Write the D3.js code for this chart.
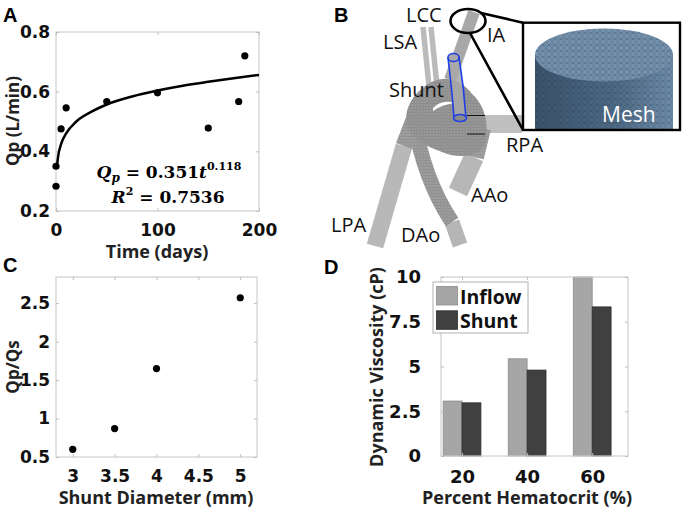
<!DOCTYPE html>
<html>
<head>
<meta charset="utf-8">
<script src="https://cdn.jsdelivr.net/npm/d3@7"></script>
<style>
body { margin: 0; background: #fff; }
svg { display: block; }
</style>
</head>
<body>
<svg id="svg1" width="685" height="512"></svg>
<script>
// ---- panel A : pulmonary flow vs time
var timeDays = [0, 0, 5, 10, 50, 100, 150, 180, 186];
var qpFlow = [0.283, 0.35, 0.475, 0.546, 0.567, 0.596, 0.478, 0.567, 0.72];
// fit curve
var fitDays = [1, 2, 5, 10, 20, 35, 50, 75, 100, 125, 150, 175, 200];
var fitFlow = [0.351, 0.381, 0.424, 0.46, 0.50, 0.533, 0.557, 0.584, 0.604, 0.62, 0.633, 0.645, 0.656];
var aTicksX = [0, 100, 200];
var aTicksY = [0.2, 0.4, 0.6, 0.8];

// ---- panel C : Qp/Qs vs shunt diameter
var shuntDiam = [3, 3.5, 4, 5];
var qpQs = [0.6, 0.87, 1.65, 2.57];
var cTicksX = [3, 3.5, 4, 4.5, 5];
var cTicksY = [0.5, 1, 1.5, 2, 2.5];

// ---- panel D : viscosity vs hematocrit
var hematocrit = ['20', '40', '60'];
var seriesNames = ['Inflow', 'Shunt'];
var inflowVisc = [3.07, 5.43, 10];
var shuntVisc = [2.97, 4.8, 8.33];
var dTicksY = [0, 2.5, 5, 7.5, 10];

var svg = d3.select('#svg1');
var sansBold = '"Open Sans", "DejaVu Sans", sans-serif';
var tickFont = '"DejaVu Sans", sans-serif';
var letterFont = '"Liberation Sans", Arial, sans-serif';

function panelLetter(txt, x, y) {
    svg.append('text').attr('x', x).attr('y', y).text(txt)
        .attr('font-family', letterFont).attr('font-weight', 700).attr('font-size', 20);
}

// matlab style box with inward ticks on all four sides
function drawAxes(g, x, y, w, h, xTicks, yTicks, xPad, yPad, xFmt, yFmt, fs) {
    g.append('rect').attr('width', w).attr('height', h)
        .attr('fill', 'none').attr('stroke', '#cfcfcf').attr('stroke-width', 1.2);
    g.append('g').attr('transform', 'translate(0,' + h + ')')
        .call(d3.axisBottom(x).tickValues(xTicks).tickSizeInner(-3).tickSizeOuter(0).tickPadding(xPad).tickFormat(xFmt));
    g.append('g')
        .call(d3.axisTop(x).tickValues(xTicks).tickSizeInner(-3).tickSizeOuter(0).tickFormat(''));
    g.append('g')
        .call(d3.axisLeft(y).tickValues(yTicks).tickSizeInner(-3).tickSizeOuter(0).tickPadding(yPad).tickFormat(yFmt));
    g.append('g').attr('transform', 'translate(' + w + ',0)')
        .call(d3.axisRight(y).tickValues(yTicks).tickSizeInner(-3).tickSizeOuter(0).tickFormat(''));
    g.selectAll('.domain').remove();
    g.selectAll('.tick line').attr('stroke', '#bdbdbd');
    g.selectAll('.tick text').attr('font-family', tickFont).attr('font-weight', 700)
        .attr('font-size', fs).attr('fill', '#111');
}

function axisLabel(txt, x, y, rotate, fs) {
    svg.append('text').text(txt)
        .attr('transform', 'translate(' + x + ',' + y + ')' + (rotate ? ' rotate(-90)' : ''))
        .attr('text-anchor', 'middle')
        .attr('font-family', sansBold).attr('font-weight', 700).attr('font-size', fs || 18).attr('fill', '#222');
}

// ================= A =================
var aW = 203, aH = 179;
var gA = svg.append('g').attr('transform', 'translate(56,32)');
var xA = d3.scaleLinear().domain([0, 200]).range([0, aW]);
var yA = d3.scaleLinear().domain([0.2, 0.8]).range([aH, 0]);
drawAxes(gA, xA, yA, aW, aH, aTicksX, aTicksY, 13, 6, d3.format('d'), d3.format('.1f'), 17);

var fitLine = d3.line()
    .x(function(d, i){ return xA(fitDays[i]); })
    .y(function(d){ return yA(d); })
    .curve(d3.curveMonotoneX);
gA.append('path').datum(fitFlow).attr('d', fitLine)
    .attr('fill', 'none').attr('stroke', '#000').attr('stroke-width', 2.5);

gA.selectAll('circle').data(qpFlow).enter().append('circle')
    .attr('cx', function(d, i){ return xA(timeDays[i]); })
    .attr('cy', function(d){ return yA(d); })
    .attr('r', 3.6).attr('fill', '#000');

var eq = svg.append('g').attr('font-family', '"DejaVu Serif", serif').attr('font-weight', 700)
    .attr('font-size', 17).attr('text-anchor', 'middle');
var eq1 = eq.append('text').attr('x', 169).attr('y', 178);
eq1.append('tspan').attr('font-style', 'italic').text('Q');
eq1.append('tspan').attr('font-style', 'italic').attr('font-size', 12).attr('dy', 4).text('p');
eq1.append('tspan').attr('dy', -4).text(' = 0.351');
eq1.append('tspan').attr('font-style', 'italic').text('t');
eq1.append('tspan').attr('font-size', 11).attr('dy', -8).text('0.118');
var eq2 = eq.append('text').attr('x', 168).attr('y', 203);
eq2.append('tspan').attr('font-style', 'italic').text('R');
eq2.append('tspan').attr('font-size', 11).attr('dy', -8).text('2');
eq2.append('tspan').attr('dy', 8).text(' = 0.7536');

axisLabel('Qp (L/min)', 18.5, 121, true, 17);
axisLabel('Time (days)', 157, 258, false);
panelLetter('A', 3, 22);

// ================= C =================
var cW = 201, cH = 180;
var gC = svg.append('g').attr('transform', 'translate(56,277)');
var xC = d3.scaleLinear().domain([2.8, 5.2]).range([0, cW]);
var yC = d3.scaleLinear().domain([0.5, 2.84]).range([cH, 0]);
drawAxes(gC, xC, yC, cW, cH, cTicksX, cTicksY, 13, 6, d3.format(''), d3.format(''), 17);

gC.selectAll('circle').data(qpQs).enter().append('circle')
    .attr('cx', function(d, i){ return xC(shuntDiam[i]); })
    .attr('cy', function(d){ return yC(d); })
    .attr('r', 3.6).attr('fill', '#000');

axisLabel('Qp/Qs', 18.5, 367, true, 17);
axisLabel('Shunt Diameter (mm)', 156, 504, false);
panelLetter('C', 3, 272);

// ================= D =================
var dW = 187, dH = 179;
var gD = svg.append('g').attr('transform', 'translate(441,277)');
var xD = d3.scaleLinear().domain([0.677, 3.55]).range([0, dW]);
var yD = d3.scaleLinear().domain([0, 10]).range([dH, 0]);
var barW = xD(1.29) - xD(1);
var colors = ['#a6a6a6', '#404040'];
var strokes = ['#8c8c8c', '#2b2b2b'];

[inflowVisc, shuntVisc].forEach(function(vals, s){
    gD.selectAll('.bar' + s).data(vals).enter().append('rect')
        .attr('class', 'bar' + s)
        .attr('x', function(d, i){ return xD(i + 1) - barW + s * barW; })
        .attr('y', function(d){ return yD(d); })
        .attr('width', barW)
        .attr('height', function(d){ return dH - yD(d); })
        .attr('fill', colors[s]).attr('stroke', strokes[s]).attr('stroke-width', 0.8);
});
drawAxes(gD, xD, yD, dW, dH, [1, 2, 3], dTicksY, 14, 20,
    function(d){ return hematocrit[d - 1]; }, d3.format(''), 18);

// legend
var leg = svg.append('g').attr('transform', 'translate(433,282)');
leg.append('rect').attr('width', 95).attr('height', 51)
    .attr('fill', '#fff').attr('stroke', '#b0b0b0').attr('stroke-width', 1);
seriesNames.forEach(function(name, s){
    leg.append('rect').attr('x', 3.5).attr('y', 4.5 + s * 24.3).attr('width', 21).attr('height', 18.5)
        .attr('fill', colors[s]).attr('stroke', strokes[s]).attr('stroke-width', 0.8);
    leg.append('text').attr('x', 27).attr('y', 22 + s * 24).text(name)
        .attr('font-family', sansBold).attr('font-weight', 700).attr('font-size', 19.5).attr('fill', '#111');
});

axisLabel('Dynamic Viscosity (cP)', 383, 367, true);
axisLabel('Percent Hematocrit (%)', 527, 504, false);
panelLetter('D', 324, 274);

// ================= B : model sketch =================
var defs = svg.append('defs');
var mesh = defs.append('pattern').attr('id', 'mesh').attr('width', 3).attr('height', 3)
    .attr('patternUnits', 'userSpaceOnUse');
mesh.append('path').attr('d', 'M0,0 L3,3 M3,0 L0,3 M0,1.5 L3,1.5')
    .attr('stroke', '#4a4a4a').attr('stroke-width', 0.35).attr('opacity', 0.4);
var meshBlue = defs.append('pattern').attr('id', 'meshBlue').attr('width', 6).attr('height', 6)
    .attr('patternUnits', 'userSpaceOnUse');
meshBlue.append('path').attr('d', 'M0,0 L6,6 M6,0 L0,6 M0,3 L6,3')
    .attr('stroke', '#22364a').attr('stroke-width', 0.4).attr('opacity', 0.5);
var side = defs.append('linearGradient').attr('id', 'cylSide');
side.append('stop').attr('offset', '0%').attr('stop-color', '#3a536b');
side.append('stop').attr('offset', '60%').attr('stop-color', '#4f6b86');
side.append('stop').attr('offset', '100%').attr('stop-color', '#6f8daa');
defs.append('clipPath').attr('id', 'boxClip').append('rect')
    .attr('x', 523).attr('y', 23).attr('width', 157).attr('height', 107);

var gB = svg.append('g');
function tube(d, w, col, meshed) {
    gB.append('path').attr('d', d).attr('fill', 'none')
        .attr('stroke', col).attr('stroke-width', w).attr('stroke-linecap', 'butt');
    if (meshed) {
        gB.append('path').attr('d', d).attr('fill', 'none')
            .attr('stroke', 'url(#mesh)').attr('stroke-width', w).attr('stroke-linecap', 'butt');
    }
}
// light end pieces
tube('M404,146 L375,246', 17, '#b8b8b8');
tube('M468,124 L522,124', 18, '#bfbfbf');
tube('M474,157 L458,192', 20, '#b7b7b7');
tube('M452,222 L460,245', 15, '#b5b5b5');
// head vessels
tube('M423,27 L430,96', 5.5, '#bbbbbb');
tube('M431,27 L438,96', 5.5, '#bbbbbb');
tube('M474,12 L450,80', 12, '#a8a8a8');
// meshed aorta and pulmonary parts
tube('M414,120 Q424,180 452,222', 15, '#a2a2a2', true);
tube('M414,120 L404,146', 17, '#a4a4a4', true);
tube('M481,128 L474,157', 20, '#a6a6a6', true);
var arch = 'M428,84 C444,74 462,80 472,94 C486,106 490,128 484,146 C476,158 456,158 442,152 C426,146 414,140 408,128 C402,112 412,94 428,84 Z';
gB.append('path').attr('d', arch).attr('fill', '#9c9c9c');
gB.append('path').attr('d', arch).attr('fill', 'url(#mesh)');
gB.append('path').attr('d', 'M433,108 Q442,99 455,103 Q443,104 433,111 Z').attr('fill', '#fff');
// shunt
gB.append('path').attr('d', 'M448,58 Q452,90 454,118 L466,118 Q464,88 459,57 Z')
    .attr('fill', '#a8a8a8').attr('fill-opacity', 0.85)
    .attr('stroke', '#1e3fe6').attr('stroke-width', 1.6);
gB.append('ellipse').attr('cx', 453.5).attr('cy', 57.5).attr('rx', 5.5).attr('ry', 4)
    .attr('fill', '#a8a8a8').attr('stroke', '#1e3fe6').attr('stroke-width', 1.6);
gB.append('ellipse').attr('cx', 460).attr('cy', 118).attr('rx', 6.5).attr('ry', 3.5)
    .attr('fill', '#8a8a8a').attr('stroke', '#1e3fe6').attr('stroke-width', 1.6);
// rpa marker lines
gB.append('path').attr('d', 'M467,115.5 L485,115.5 M467,134 L485,134')
    .attr('stroke', '#111').attr('stroke-width', 1);

// zoom ellipse, connector lines, inset
gB.append('ellipse').attr('cx', 468).attr('cy', 21).attr('rx', 17.5).attr('ry', 12)
    .attr('fill', 'none').attr('stroke', '#000').attr('stroke-width', 2.6);
gB.append('path').attr('d', 'M481,13 L523,22.7 M470,33 L523,130')
    .attr('stroke', '#000').attr('stroke-width', 2.6).attr('fill', 'none');
var inset = gB.append('g').attr('clip-path', 'url(#boxClip)');
inset.append('rect').attr('x', 535).attr('y', 55).attr('width', 138).attr('height', 80)
    .attr('fill', 'url(#cylSide)');
inset.append('rect').attr('x', 535).attr('y', 55).attr('width', 138).attr('height', 80)
    .attr('fill', 'url(#meshBlue)');
inset.append('ellipse').attr('cx', 604).attr('cy', 55).attr('rx', 69).attr('ry', 26.5)
    .attr('fill', '#7591ad');
inset.append('ellipse').attr('cx', 604).attr('cy', 55).attr('rx', 69).attr('ry', 26.5)
    .attr('fill', 'url(#meshBlue)');
gB.append('rect').attr('x', 523).attr('y', 22.7).attr('width', 157).attr('height', 107.3)
    .attr('fill', 'none').attr('stroke', '#000').attr('stroke-width', 2.4);
gB.append('text').attr('x', 602).attr('y', 122).text('Mesh')
    .attr('font-family', '"Open Sans", sans-serif').attr('font-size', 21).attr('fill', '#fff');

// vessel labels
var bLabels = gB.append('g').attr('font-family', '"Open Sans", sans-serif').attr('font-size', 20).attr('fill', '#111');
bLabels.append('text').attr('x', 406).attr('y', 22).text('LCC');
bLabels.append('text').attr('x', 383).attr('y', 49).text('LSA');
bLabels.append('text').attr('x', 487).attr('y', 42).text('IA');
bLabels.append('text').attr('x', 389).attr('y', 97).text('Shunt');
bLabels.append('text').attr('x', 506).attr('y', 152).text('RPA');
bLabels.append('text').attr('x', 471).attr('y', 202).text('AAo');
bLabels.append('text').attr('x', 331).attr('y', 232).text('LPA');
bLabels.append('text').attr('x', 401).attr('y', 242).text('DAo');
panelLetter('B', 334, 22);
</script>
</body>
</html>
